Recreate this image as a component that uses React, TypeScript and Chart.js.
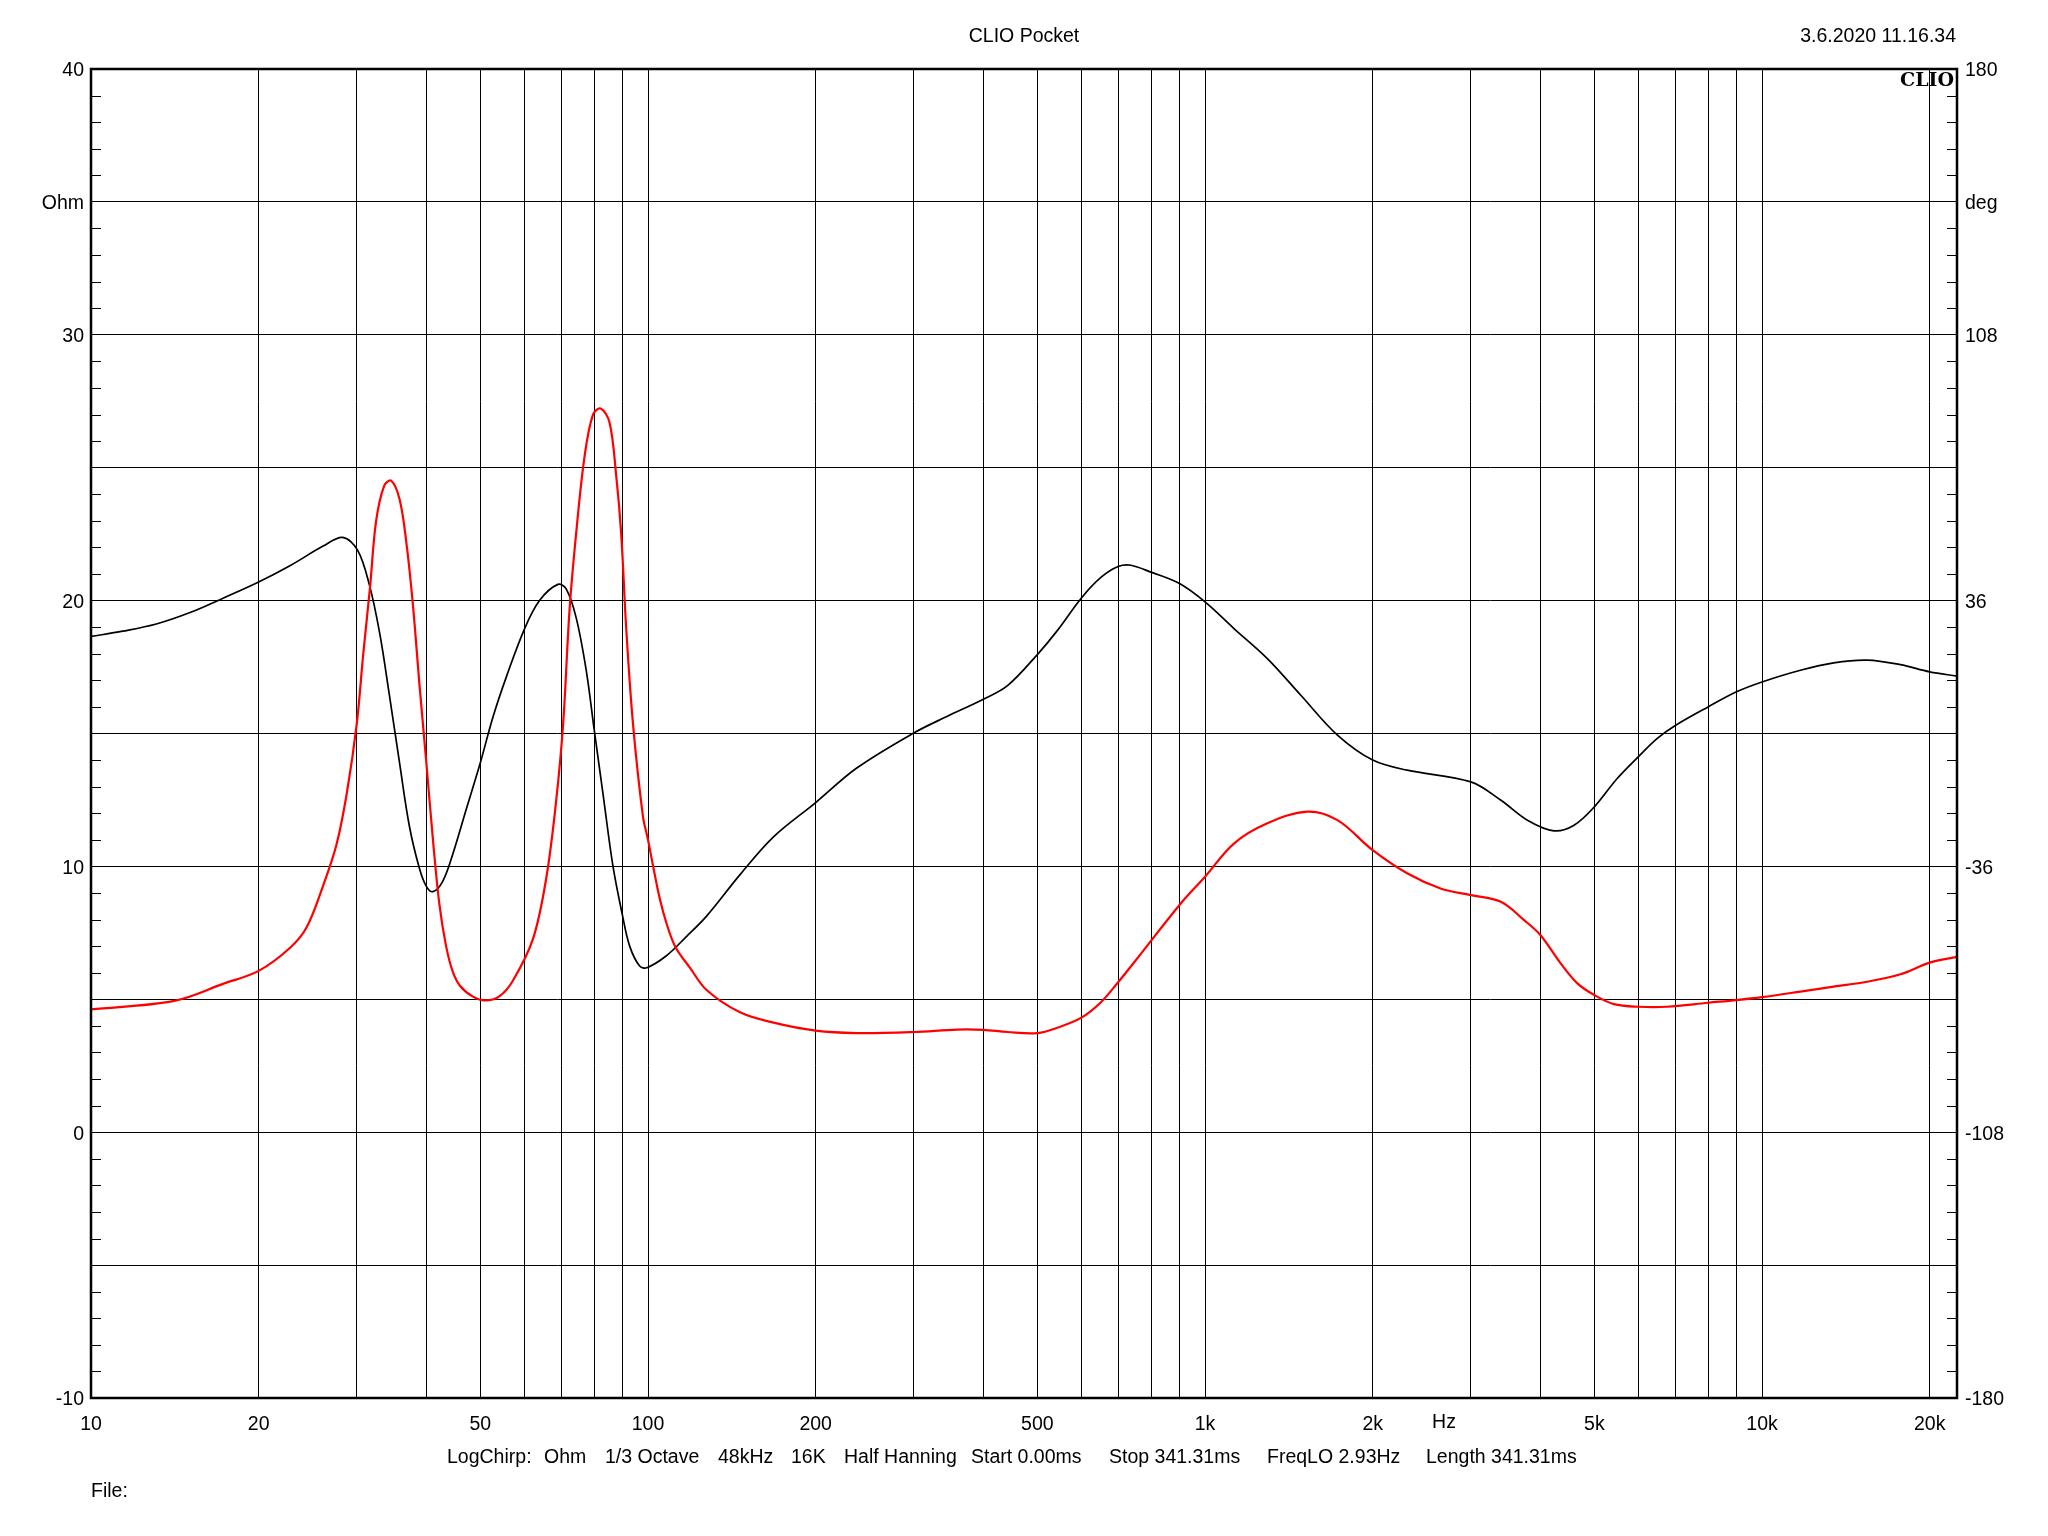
import React, { useEffect, useRef } from "react";
import { Chart, registerables } from "chart.js";

Chart.register(...registerables);

// ---- data (frequency in Hz, impedance in Ohm) ----
const blackFreq = [
  10, 11.4, 13.1, 15.1, 17.3, 20, 22.8, 26.1, 28.3, 30.1, 31.6, 33.0, 34.3, 35.8, 37.3, 38.9, 40.0, 41.1,
  42.8, 44.6, 47.2, 50, 52.7, 55.7, 60, 63.9, 68.9, 71.3, 74.3, 77.5, 80, 83, 86.5, 90, 92.7, 96.6, 99.5,
  107.9, 117.2, 127.4, 146.3, 168, 200, 237, 300, 344, 400, 442, 500, 543, 600, 651, 700, 736, 800, 900,
  1000, 1127, 1294, 1486, 1729, 2000, 2306, 3000, 3398, 3792, 4232, 4598, 5000, 5491, 6000, 6479, 7000,
  8000, 9000, 10000, 11720, 13450, 15440, 17720, 20000, 22390,
];
const blackOhm = [
  18.65, 18.85, 19.12, 19.56, 20.1, 20.7, 21.32, 22.05, 22.38, 21.9, 20.6, 18.75, 16.5, 13.9, 11.5, 9.9, 9.25, 9.05,
  9.44, 10.45, 12.17, 13.9, 15.63, 17.14, 18.93, 20.01, 20.61, 20.44, 19.36, 17.35, 15.19, 12.75, 10.02, 8.15, 7.0, 6.25, 6.19,
  6.64, 7.36, 8.13, 9.69, 11.11, 12.4, 13.7, 15.02, 15.64, 16.29, 16.8, 17.97, 18.87, 20.1, 20.88, 21.29, 21.33, 21.07, 20.64,
  19.95, 18.95, 17.82, 16.44, 14.94, 14.0, 13.62, 13.18, 12.49, 11.74, 11.34, 11.55, 12.24, 13.3, 14.13, 14.81, 15.31,
  16.0, 16.57, 16.94, 17.38, 17.66, 17.76, 17.59, 17.32, 17.16,
];
const redFreq = [
  10, 14.1, 17.3, 20, 22.8, 24.4, 26.1, 27.6, 28.8, 30, 30.8, 31.7, 32.5, 33.6, 34.6, 35.8, 36.8, 37.8,
  38.9, 40, 41.1, 42.2, 43.4, 44.6, 46, 48.5, 51, 54, 57.2, 62.2, 65.7, 68.4, 70.4, 72.3, 74.3, 76.9,
  79.6, 82.2, 85.3, 87.7, 89.5, 91.4, 94, 97.9, 100, 102, 105, 107.9, 112, 118.9, 127.4, 146.3, 168, 200,
  237, 300, 359, 400, 442, 500, 543, 600, 651, 700, 767, 900, 1000, 1127, 1294, 1527, 1729, 2000, 2306,
  2648, 3000, 3398, 3739, 4000, 4350, 4661, 5000, 5420, 6000, 6752, 8000, 9000, 10000, 11720, 13450,
  15440, 17720, 20000, 22390,
];
const redOhm = [
  4.62, 4.94, 5.59, 6.07, 6.95, 7.72, 9.27, 10.83, 12.77, 15.36, 17.94, 20.53, 23.0, 24.32, 24.51, 23.82, 22.24, 19.94,
  16.78, 13.9, 11.02, 8.6, 7.0, 6.05, 5.5, 5.1, 4.96, 5.1, 5.7, 7.29, 9.59, 12.46, 15.34, 19.65, 22.53, 25.4,
  26.98, 27.23, 26.7, 24.68, 22.53, 18.93, 15.34, 11.9, 11.0, 10.07, 8.78, 7.87, 6.97, 6.19, 5.35, 4.51, 4.12, 3.82,
  3.73, 3.77, 3.86, 3.85, 3.77, 3.73, 3.93, 4.31, 4.9, 5.67, 6.71, 8.55, 9.61, 10.86, 11.62, 12.06, 11.74, 10.61, 9.74,
  9.17, 8.92, 8.67, 7.98, 7.42, 6.35, 5.6, 5.16, 4.82, 4.72, 4.72, 4.87, 4.97, 5.08, 5.29, 5.48,
  5.66, 5.94, 6.38, 6.6,
];

// ---- axes / ticks ----
const xMin = 10;
const xMax = 22390;
const xGridTicks = [
  10, 20, 30, 40, 50, 60, 70, 80, 90,
  100, 200, 300, 400, 500, 600, 700, 800, 900,
  1000, 2000, 3000, 4000, 5000, 6000, 7000, 8000, 9000,
  10000, 20000,
];
const xTickLabels: Record<number, string> = {
  10: "10", 20: "20", 50: "50", 100: "100", 200: "200", 500: "500",
  1000: "1k", 2000: "2k", 5000: "5k", 10000: "10k", 20000: "20k",
};
const yLeftLabels: Record<number, string> = {
  40: "40", 35: "Ohm", 30: "30", 20: "20", 10: "10", 0: "0", [-10]: "-10",
};
const yRightLabels: Record<number, string> = {
  180: "180", 144: "deg", 108: "108", 36: "36", [-36]: "-36", [-108]: "-108", [-180]: "-180",
};
const titleText = "CLIO Pocket";
const dateText = "3.6.2020 11.16.34";
const logoText = "CLIO";
const xUnitText = "Hz";
const fileText = "File:";
const infoItems = [
  "LogChirp:", "Ohm", "1/3 Octave", "48kHz", "16K", "Half Hanning",
  "Start 0.00ms", "Stop 341.31ms", "FreqLO 2.93Hz", "Length 341.31ms",
];

// layout constants (pixels)
const W = 2048;
const H = 1536;
const PLOT_LEFT = 91;
const PLOT_RIGHT = 1957;
const PLOT_TOP = 69;
const PLOT_BOTTOM = 1398;
const infoX = [447, 544, 605, 718, 791, 844, 971, 1109, 1267, 1426];
const FONT = "'Liberation Sans', Arial, sans-serif";
const FS = 19.5;

export default function App() {
  const ref = useRef<HTMLCanvasElement>(null);

  useEffect(() => {
    const canvas = ref.current;
    if (!canvas) return;

    const overlay = {
      id: "overlay",
      afterDraw(chart: any) {
        const ctx = chart.ctx as CanvasRenderingContext2D;
        const { left, right, top, bottom } = chart.chartArea;
        const ys = chart.scales.y;
        ctx.save();
        ctx.strokeStyle = "#000";
        ctx.lineWidth = 1;
        for (let v = -9; v < 40; v++) {
          if (v % 5 === 0) continue;
          const py = Math.round(ys.getPixelForValue(v)) + 0.5;
          ctx.beginPath();
          ctx.moveTo(left, py);
          ctx.lineTo(left + 10, py);
          ctx.moveTo(right - 10, py);
          ctx.lineTo(right, py);
          ctx.stroke();
        }
        ctx.lineWidth = 2.5;
        ctx.strokeRect(left, top, right - left, bottom - top);

        ctx.fillStyle = "#000";
        ctx.font = `${FS}px ${FONT}`;
        ctx.textBaseline = "middle";
        ctx.textAlign = "center";
        ctx.fillText(titleText, 1024, 37);
        ctx.textAlign = "right";
        ctx.fillText(dateText, 1956, 37);
        ctx.textAlign = "center";
        ctx.fillText(xUnitText, 1444, 1423);
        ctx.textAlign = "left";
        infoItems.forEach((t, i) => ctx.fillText(t, infoX[i], 1458));
        ctx.fillText(fileText, 91, 1492);

        ctx.font = `bold 19px 'DejaVu Serif', 'Liberation Serif', serif`;
        ctx.textAlign = "right";
        ctx.textBaseline = "top";
        ctx.fillText(logoText, 1954, 72);
        ctx.restore();
      },
    };

    const chart = new Chart(canvas, {
      type: "scatter",
      data: {
        datasets: [
          {
            label: "red",
            data: redFreq.map((f, i) => ({ x: f, y: redOhm[i] })),
            showLine: true,
            borderColor: "#ff0000",
            borderWidth: 2.2,
            pointRadius: 0,
            tension: 0.35,
            yAxisID: "y",
          },
          {
            label: "black",
            data: blackFreq.map((f, i) => ({ x: f, y: blackOhm[i] })),
            showLine: true,
            borderColor: "#000000",
            borderWidth: 1.7,
            pointRadius: 0,
            tension: 0.35,
            yAxisID: "y",
          },
        ],
      },
      options: {
        responsive: false,
        animation: false,
        events: [],
        layout: { padding: { top: PLOT_TOP, left: 0, right: 0, bottom: 0 } },
        plugins: { legend: { display: false }, tooltip: { enabled: false }, title: { display: false } },
        scales: {
          x: {
            type: "logarithmic",
            position: "bottom",
            min: xMin,
            max: xMax,
            afterBuildTicks: (scale: any) => {
              scale.ticks = xGridTicks.map((v) => ({ value: v }));
            },
            afterFit: (scale: any) => {
              scale.height = H - PLOT_BOTTOM;
            },
            grid: { color: "#000", lineWidth: 1, drawTicks: false },
            border: { display: false },
            ticks: {
              autoSkip: false,
              maxRotation: 0,
              minRotation: 0,
              padding: 15,
              color: "#000",
              font: { family: FONT, size: FS },
              callback: (v: any) => xTickLabels[Math.round(Number(v))] ?? "",
            },
          },
          y: {
            type: "linear",
            position: "left",
            min: -10,
            max: 40,
            afterFit: (scale: any) => {
              scale.width = PLOT_LEFT;
            },
            grid: { color: "#000", lineWidth: 1, drawTicks: false },
            border: { display: false },
            ticks: {
              stepSize: 5,
              autoSkip: false,
              padding: 7,
              labelOffset: 2,
              color: "#000",
              font: { family: FONT, size: FS },
              callback: (v: any) => yLeftLabels[Math.round(Number(v))] ?? "",
            },
          },
          y2: {
            type: "linear",
            position: "right",
            min: -180,
            max: 180,
            afterFit: (scale: any) => {
              scale.width = W - PLOT_RIGHT;
            },
            grid: { display: false, drawTicks: false },
            border: { display: false },
            ticks: {
              stepSize: 36,
              autoSkip: false,
              padding: 8,
              labelOffset: 2,
              color: "#000",
              font: { family: FONT, size: FS },
              callback: (v: any) => yRightLabels[Math.round(Number(v))] ?? "",
            },
          },
        },
      } as any,
      plugins: [overlay],
    });

    return () => chart.destroy();
  }, []);

  return (
    <div style={{ position: "absolute", left: 0, top: 0, width: W, height: H, background: "#fff" }}>
      <canvas ref={ref} width={W} height={H} style={{ display: "block", width: W, height: H }} />
    </div>
  );
}
